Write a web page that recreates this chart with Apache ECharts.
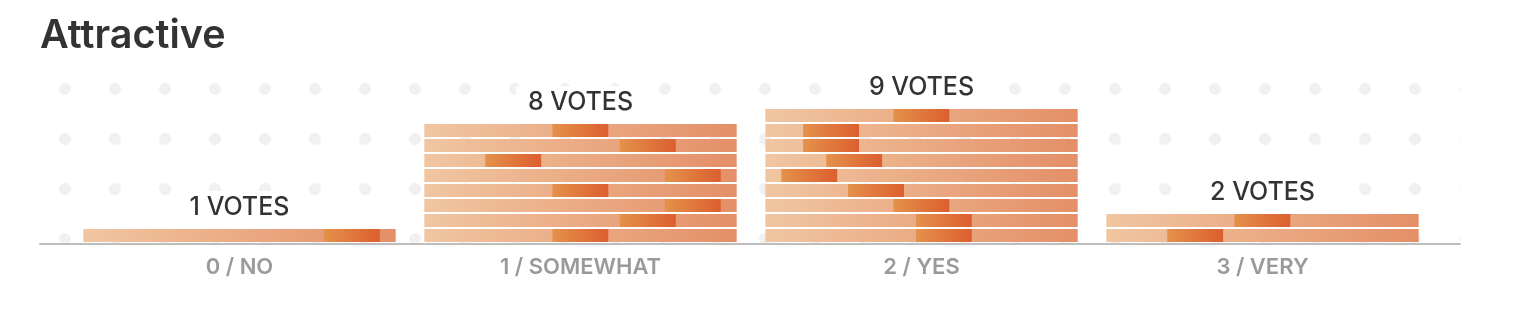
<!DOCTYPE html>
<html>
<head>
<meta charset="utf-8">
<script src="https://cdn.jsdelivr.net/npm/echarts@6/dist/echarts.min.js"></script>
<style>
  html, body { margin: 0; padding: 0; background: #fff; }
  #wrap { position: relative; width: 1536px; height: 332px; }
  #dots {
    position: absolute; left: 40px; top: 80px; width: 1420px; height: 164px;
    background-image: radial-gradient(circle, #f1f1f1 0, #f1f1f1 5.6px, rgba(255,255,255,0) 6.3px);
    background-size: 50px 50px;
    background-position: 0 -16px;
  }
  #chart { position: absolute; left: 0; top: 0; width: 1536px; height: 332px; }
</style>
</head>
<body>
<div id="wrap">
  <div id="dots"></div>
  <div id="chart"></div>
</div>
<script>
// ---- data ----
const title = 'Attractive';
const categories = ['0 / NO', '1 / SOMEWHAT', '2 / YES', '3 / VERY'];
const voteCounts = [1, 8, 9, 2];
// each vote: start of the highlighted segment, % of strip width (listed bottom to top)
const noVotes = [77];
const somewhatVotes = [41, 62.6, 77, 41, 77, 19.5, 62.6, 41];
const yesVotes = [48.2, 48.2, 41, 26.5, 5.1, 19.5, 12.1, 12.1, 41];
const veryVotes = [19.5, 41];

const votesByCategory = [noVotes, somewhatVotes, yesVotes, veryVotes];

// ---- build custom series data ----
const stripData = [];
votesByCategory.forEach((list, c) => {
  list.forEach((start, i) => stripData.push([c, i, start]));
});

const FONT = 'Inter, "Noto Sans", sans-serif';
const STRIP_RATIO = 0.916;
const SEG_RATIO = 0.179;

const chart = echarts.init(document.getElementById('chart'), null, { renderer: 'canvas' });

const option = {
  animation: false,
  title: {
    text: title,
    left: 35,
    top: 11,
    textStyle: { fontFamily: FONT, fontSize: 39.5, fontWeight: 600, color: '#333' }
  },
  grid: [
    { left: 40, right: 76, top: 94, bottom: 88 },
    { left: 69, right: 103, top: 94, bottom: 88 }
  ],
  xAxis: [
    {
      gridIndex: 0, type: 'category', data: [''],
      axisLine: { show: true, lineStyle: { color: '#bdbdbd', width: 2 } },
      axisTick: { show: false }, axisLabel: { show: false }, splitLine: { show: false }
    },
    {
      gridIndex: 1, type: 'category', data: categories,
      axisLine: { show: false }, axisTick: { show: false },
      axisLabel: { fontFamily: FONT, fontSize: 22, fontWeight: 600, color: '#9a9a9a', margin: 12 },
      splitLine: { show: false }
    }
  ],
  yAxis: [
    { gridIndex: 0, type: 'value', min: 0, max: 10, show: false },
    { gridIndex: 1, type: 'value', min: 0, max: 10, show: false }
  ],
  series: [
    {
      type: 'custom',
      xAxisIndex: 1, yAxisIndex: 1,
      silent: true,
      data: stripData,
      renderItem: function (params, api) {
        const cat = api.value(0);
        const idx = api.value(1);
        const start = api.value(2);
        const base = api.coord([cat, idx]);
        const top = api.coord([cat, idx + 1]);
        const band = api.size([1, 0])[0];
        const w = band * STRIP_RATIO;
        const x0 = base[0] - w / 2;
        const y0 = top[1];
        const h = base[1] - top[1] - 2;
        return {
          type: 'group',
          children: [
            {
              type: 'rect',
              shape: { x: x0, y: y0, width: w, height: h },
              style: {
                fill: new echarts.graphic.LinearGradient(0, 0, 1, 0, [
                  { offset: 0, color: '#f0c6a1' },
                  { offset: 1, color: '#e48f67' }
                ])
              }
            },
            {
              type: 'rect',
              shape: { x: x0 + w * start / 100, y: y0, width: w * SEG_RATIO, height: h },
              style: {
                fill: new echarts.graphic.LinearGradient(0, 0, 1, 0, [
                  { offset: 0, color: '#e4914b' },
                  { offset: 1, color: '#dc5f2f' }
                ])
              }
            }
          ]
        };
      }
    },
    {
      type: 'bar',
      xAxisIndex: 1, yAxisIndex: 1,
      silent: true,
      data: voteCounts,
      barWidth: '91.6%',
      itemStyle: { color: 'rgba(0,0,0,0)' },
      label: {
        show: true,
        position: 'top',
        distance: 7,
        formatter: '{c} VOTES',
        fontFamily: FONT,
        fontSize: 25,
        fontWeight: 500,
        color: '#333',
        backgroundColor: '#fff',
        padding: [4, 12, 2, 12]
      },
      z: 5
    }
  ]
};

chart.setOption(option);
</script>
</body>
</html>
